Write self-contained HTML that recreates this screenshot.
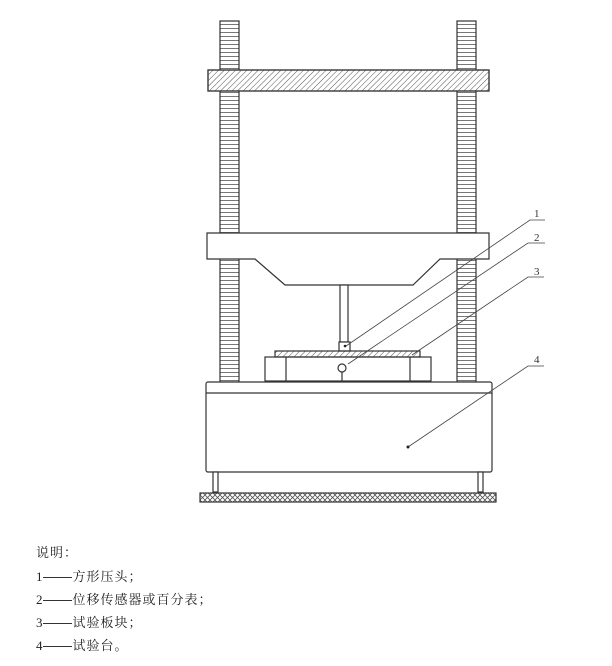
<!DOCTYPE html>
<html><head><meta charset="utf-8"><style>
body{margin:0;background:#fff;width:612px;height:666px;overflow:hidden}
.t{position:absolute;left:36px;font:13px "Noto Serif CJK SC",serif;color:#222;letter-spacing:1px;white-space:nowrap}
.t b{font-weight:normal;font-family:"Liberation Serif",serif;letter-spacing:0}
.t i{font-style:normal;display:inline-block;width:29px;height:1px;background:#333;vertical-align:middle;margin:0 1px 0 0;letter-spacing:0}
</style></head><body>
<svg width="612" height="666" style="position:absolute;left:0;top:0">
<defs>
<pattern id="h" width="4" height="4" patternUnits="userSpaceOnUse" patternTransform="rotate(45)"><line x1="0" y1="0" x2="0" y2="4" stroke="#555" stroke-width="1"/></pattern>
<pattern id="s" width="20" height="4" patternUnits="userSpaceOnUse"><line x1="0" y1="0.5" x2="20" y2="0.5" stroke="#777" stroke-width="1"/></pattern>
<pattern id="x" width="5" height="5" patternUnits="userSpaceOnUse"><path d="M0 0L5 5M5 0L0 5" stroke="#555" stroke-width="0.8"/></pattern>
</defs>
<g stroke="#333" stroke-width="1.2" fill="#fff">
<rect x="220" y="21" width="19" height="361" fill="url(#s)"/>
<rect x="457" y="21" width="19" height="361" fill="url(#s)"/>
<rect x="208" y="70" width="281" height="21" fill="#fff"/>
<rect x="208" y="70" width="281" height="21" fill="url(#h)"/>
<path d="M207 233H489V259H440L413 285H285L255 259H207Z"/>
<rect x="340" y="285" width="8" height="57"/>
<rect x="339" y="342" width="11" height="9"/>
<rect x="265" y="357" width="166" height="24"/>
<line x1="286" y1="357" x2="286" y2="381"/><line x1="410" y1="357" x2="410" y2="381"/>
<rect x="275" y="351" width="145" height="6" fill="url(#h)"/>
<circle cx="342" cy="368" r="4"/>
<line x1="342" y1="372" x2="342" y2="381"/>
<rect x="206" y="382" width="286" height="90" rx="2"/>
<line x1="206" y1="393" x2="492" y2="393"/>
<rect x="213" y="472" width="5" height="20"/><rect x="478" y="472" width="5" height="20"/>
<rect x="200" y="493" width="296" height="9" fill="url(#x)"/>
</g>
<g stroke="#444" stroke-width="0.8" fill="none">
<path d="M545 220H530L346 346"/>
<path d="M545 243H528L348 364"/>
<path d="M544 277H528L412 355"/>
<path d="M544 366H528L408 447"/>
</g>
<circle cx="408" cy="447" r="1.5" fill="#222"/>
<circle cx="345" cy="346" r="1.3" fill="#222"/>
<g font-family="Liberation Serif,serif" font-size="11" fill="#333">
<text x="534" y="217">1</text><text x="534" y="241">2</text><text x="534" y="275">3</text><text x="534" y="363">4</text>
</g>
</svg>
<div class="t" style="top:542px">说明：</div>
<div class="t" style="top:566px"><b>1</b><i></i>方形压头；</div>
<div class="t" style="top:589px"><b>2</b><i></i>位移传感器或百分表；</div>
<div class="t" style="top:612px"><b>3</b><i></i>试验板块；</div>
<div class="t" style="top:635px"><b>4</b><i></i>试验台。</div>
</body></html>
